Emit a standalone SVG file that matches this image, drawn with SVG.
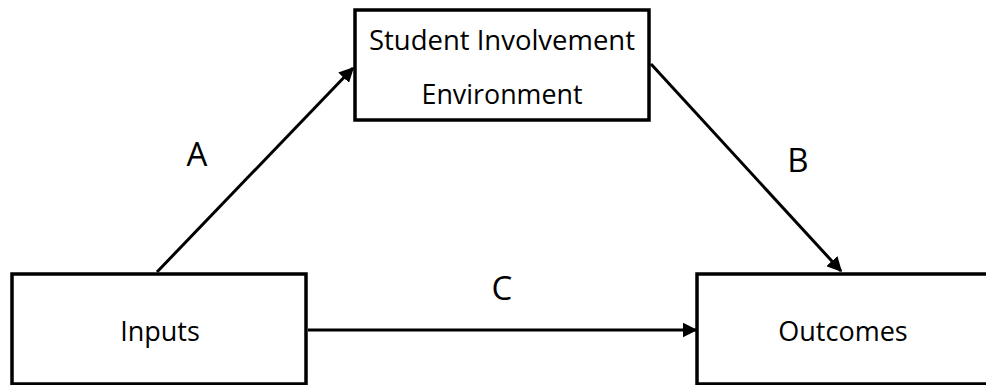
<svg xmlns="http://www.w3.org/2000/svg" width="986" height="385" viewBox="0 0 986 385">
<style>
.box{fill:#fff;stroke:#000;stroke-width:3.5}
.lbl{font-family:"Open Sans","Liberation Sans",sans-serif;font-size:27px;fill:#000;text-anchor:middle}
.big{font-family:"Open Sans","Liberation Sans",sans-serif;font-size:33px;fill:#000;text-anchor:middle}
.edge{stroke:#000;stroke-width:3;fill:none;marker-end:url(#ah)}
</style>
<defs>
<marker id="ah" markerWidth="5" markerHeight="5" refX="4.5" refY="2.5" orient="auto" markerUnits="strokeWidth">
<path d="M0,0 L5,2.5 L0,5 z" fill="#000"/>
</marker>
</defs>
<rect width="986" height="385" fill="#fff"/>
<g id="connectors">
<line class="edge" x1="157" y1="272" x2="353" y2="68"/>
<line class="edge" x1="651" y1="64" x2="841" y2="271"/>
<line class="edge" x1="308" y1="330" x2="696" y2="330"/>
<text class="big" x="197" y="166">A</text>
<text class="big" x="798" y="172">B</text>
<text class="big" x="502" y="300">C</text>
</g>
<g id="node-sie">
<rect class="box" x="355" y="10" width="294" height="110"/>
<text class="lbl" x="502" y="50" textLength="266" lengthAdjust="spacingAndGlyphs">Student Involvement</text>
<text class="lbl" x="502" y="104" textLength="161" lengthAdjust="spacingAndGlyphs">Environment</text>
</g>
<g id="node-inputs">
<rect class="box" x="12" y="274" width="294" height="110"/>
<text class="lbl" x="160" y="341">Inputs</text>
</g>
<g id="node-outcomes">
<rect class="box" x="697" y="274" width="300" height="110"/>
<text class="lbl" x="843" y="341">Outcomes</text>
</g>
</svg>
